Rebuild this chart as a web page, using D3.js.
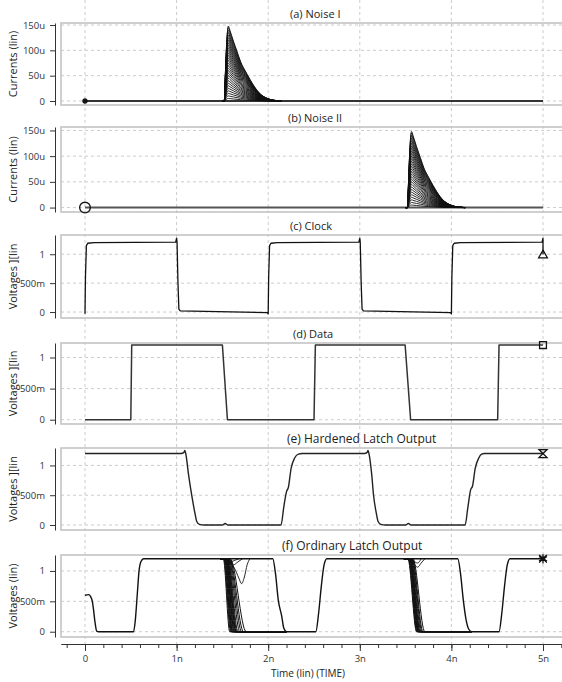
<!DOCTYPE html>
<html>
<head>
<meta charset="UTF-8">
<title>Latch output under noise</title>
<script src="https://d3js.org/d3.v7.min.js"></script>
<style>
  body { margin: 0; background: #fff; }
  svg { font-family: "Open Sans", sans-serif; }
  .grid { stroke: #cccccc; stroke-width: 1; stroke-dasharray: 3,3; }
  .box { fill: none; stroke: #c4c4c4; stroke-width: 1.6; }
  .axis path, .axis line { stroke: #333; }
  .axis text { fill: #333; font-size: 9.5px; font-family: "Open Sans", sans-serif; }
</style>
</head>
<body>
<svg></svg>
<script>
// ticks
const timeTicks = [0, 1, 2, 3, 4, 5];
const timeTickLabels = ["0", "1n", "2n", "3n", "4n", "5n"];
const currentTicks = [0, 50, 100, 150];
const currentTickLabels = ["0", "50u", "100u", "150u"];
const voltageTicks = [0, 0.5, 1];
const voltageTickLabels = ["0", "500m", "1"];

// noise current pulses (uA): one pulse shape, scaled to each peak value
const noiseShape = [0, 0, 0.45, 0.85, 1, 0.95, 0.8, 0.66, 0.52, 0.4, 0.29, 0.19, 0.11, 0.06, 0.03, 0.012, 0];
const noiseIT  = [1.50, 1.52, 1.535, 1.55, 1.565, 1.58, 1.62, 1.66, 1.70, 1.75, 1.80, 1.85, 1.90, 1.95, 2.00, 2.05, 2.15];
const noiseIIT = [3.50, 3.52, 3.535, 3.55, 3.565, 3.58, 3.62, 3.66, 3.70, 3.75, 3.80, 3.85, 3.90, 3.95, 4.00, 4.05, 4.15];
const noisePeaks = [5, 10, 15, 20, 25, 30, 35, 40, 45, 50, 55, 60, 65, 70, 75, 80, 85, 90, 95, 100,
                    105, 110, 115, 120, 125, 130, 135, 140, 145, 148];

// clock (V)
const clockT = [0, 0.005, 0.015, 0.03, 0.1, 0.99, 1.0, 1.005, 1.015, 1.025, 1.04, 1.99, 2.0, 2.005, 2.015, 2.03, 2.1,
                2.99, 3.0, 3.005, 3.015, 3.025, 3.04, 3.99, 4.0, 4.005, 4.015, 4.03, 4.1, 4.99, 5.0, 5.0];
const clockV = [-0.03, 0.6, 1.15, 1.19, 1.2, 1.21, 1.28, 1.2, 0.5, 0.05, 0.02, -0.01, -0.03, 0.6, 1.15, 1.19, 1.2,
                1.21, 1.28, 1.2, 0.5, 0.05, 0.02, -0.01, -0.03, 0.6, 1.15, 1.19, 1.2, 1.21, 1.28, 1.0];

// data (V)
const dataT = [0, 0.5, 0.51, 1.5, 1.555, 2.5, 2.515, 3.495, 3.555, 4.505, 4.52, 5.0];
const dataV = [0, 0, 1.2, 1.2, 0, 0, 1.2, 1.2, 0, 0, 1.2, 1.2];

// hardened latch output (V)
const hardT = [0, 1.05, 1.08, 1.09, 1.1, 1.13, 1.165, 1.2, 1.22, 1.25, 1.3, 1.5, 1.53, 1.56,
               2.14, 2.17, 2.2, 2.22, 2.25, 2.29, 2.33, 2.37,
               3.05, 3.08, 3.09, 3.1, 3.13, 3.15, 3.18, 3.2, 3.23, 3.28, 3.5, 3.53, 3.56,
               4.15, 4.18, 4.21, 4.23, 4.26, 4.3, 4.33, 4.36, 5.0];
const hardV = [1.2, 1.2, 1.22, 1.25, 1.2, 0.85, 0.5, 0.2, 0.06, 0.01, 0, 0, 0.025, 0,
               0, 0.3, 0.56, 0.63, 0.95, 1.13, 1.19, 1.2,
               1.2, 1.22, 1.25, 1.2, 0.85, 0.5, 0.2, 0.06, 0.01, 0, 0, 0.025, 0,
               0, 0.3, 0.59, 0.65, 0.95, 1.13, 1.19, 1.2, 1.2];

// ordinary latch output (V), nominal run
const ordT = [0, 0.04, 0.06, 0.08, 0.09, 0.11, 0.128, 0.15, 0.53, 0.55, 0.57, 0.59, 0.61, 0.64,
              2.05, 2.08, 2.11, 2.147, 2.17, 2.2, 2.52, 2.55, 2.58, 2.61, 2.64,
              4.07, 4.1, 4.13, 4.16, 4.19, 4.22, 4.52, 4.55, 4.58, 4.61, 4.64, 5.0];
const ordV = [0.6, 0.61, 0.58, 0.5, 0.4, 0.15, 0.01, 0, 0, 0.2, 0.6, 1.0, 1.15, 1.2,
              1.2, 0.95, 0.52, 0.26, 0.06, 0, 0, 0.3, 0.75, 1.1, 1.2,
              1.2, 0.95, 0.52, 0.2, 0.04, 0, 0, 0.3, 0.75, 1.1, 1.2, 1.2];

// runs flipped by noise I / noise II: start and end of the fall (ns)
const flipIStart  = [1.51, 1.515, 1.52, 1.525, 1.53, 1.535, 1.54, 1.54, 1.545, 1.55, 1.55, 1.555, 1.56, 1.565, 1.57, 1.575, 1.58, 1.585];
const flipIEnd    = [1.58, 1.59, 1.60, 1.60, 1.61, 1.61, 1.62, 1.63, 1.63, 1.64, 1.65, 1.65, 1.66, 1.67, 1.69, 1.71, 1.73, 1.76];
const flipIIStart = [3.525, 3.53, 3.535, 3.54, 3.545, 3.55, 3.55, 3.555, 3.56, 3.565, 3.57, 3.575, 3.58];
const flipIIEnd   = [3.62, 3.625, 3.63, 3.635, 3.64, 3.645, 3.65, 3.655, 3.66, 3.67, 3.68, 3.69, 3.71];

// runs that dip and recover
const dipsT = [
  [1.52, 1.58, 1.63, 1.68, 1.71, 1.74, 1.77, 1.80],
  [1.52, 1.57, 1.62, 1.67, 1.72],
  [1.53, 1.58, 1.63, 1.68],
  [3.52, 3.58, 3.63, 3.67, 3.71],
  [3.53, 3.59, 3.63, 3.67]
];
const dipsV = [
  [1.2, 1.15, 1.05, 0.88, 0.79, 0.9, 1.1, 1.2],
  [1.2, 1.17, 1.1, 1.15, 1.2],
  [1.2, 1.15, 1.17, 1.2],
  [1.2, 1.14, 1.06, 1.13, 1.2],
  [1.2, 1.16, 1.13, 1.2]
];

const width = 562, height = 682;
const svg = d3.select('svg').attr('width', width).attr('height', height);

const x = d3.scaleLinear().domain([0, 5]).range([85, 543]);
const plotLeft = 61, plotRight = 580;
const xFull = x.copy().domain([x.invert(plotLeft), x.invert(plotRight)]).range([plotLeft, plotRight]);

const panels = [
  { title: '(a) Noise I', tx: 290, fs: 11, ylabel: 'Currents (lin)', top: 23, bottom: 105, dom: [-7.9, 154], ticks: currentTicks, labels: currentTickLabels },
  { title: '(b) Noise II', tx: 288, fs: 11, ylabel: 'Currents (lin)', top: 127, bottom: 212, dom: [-8.6, 156.7], ticks: currentTicks, labels: currentTickLabels },
  { title: '(c) Clock', tx: 290, fs: 11, ylabel: 'Voltages ][lin', top: 235, bottom: 318, dom: [-0.103, 1.333], ticks: voltageTicks, labels: voltageTickLabels },
  { title: '(d) Data', tx: 293, fs: 11, ylabel: 'Voltages ][lin', top: 343, bottom: 424, dom: [-0.069, 1.233], ticks: voltageTicks, labels: voltageTickLabels },
  { title: '(e) Hardened Latch Output', tx: 287, fs: 12, ylabel: 'Voltages ][lin', top: 448, bottom: 530, dom: [-0.084, 1.293], ticks: voltageTicks, labels: voltageTickLabels },
  { title: '(f) Ordinary Latch Output', tx: 282, fs: 12, ylabel: 'Voltages (lin)', top: 555, bottom: 637, dom: [-0.087, 1.262], ticks: voltageTicks, labels: voltageTickLabels }
];
panels.forEach(p => { p.y = d3.scaleLinear().domain(p.dom).range([p.bottom, p.top]); });

// vertical grid through the whole figure
svg.append('g').selectAll('line').data(timeTicks).enter().append('line')
  .attr('class', 'grid')
  .attr('x1', d => x(d)).attr('x2', d => x(d))
  .attr('y1', 0).attr('y2', 644);

panels.forEach(p => {
  const g = svg.append('g');
  g.selectAll('.hgrid').data(p.ticks).enter().append('line')
    .attr('class', 'grid')
    .attr('x1', plotLeft).attr('x2', width)
    .attr('y1', d => p.y(d)).attr('y2', d => p.y(d));
  g.append('rect').attr('class', 'box')
    .attr('x', plotLeft).attr('y', p.top)
    .attr('width', plotRight - plotLeft).attr('height', p.bottom - p.top);
  g.append('g').attr('class', 'axis')
    .attr('transform', 'translate(55,0)')
    .call(d3.axisLeft(p.y).tickValues(p.ticks).tickFormat((d, i) => p.labels[i])
      .tickSize(5).tickSizeOuter(0).tickPadding(5));
  g.append('text')
    .attr('x', p.tx).attr('y', p.top - 5)
    .attr('font-size', p.fs + 'px').attr('fill', '#222')
    .text(p.title);
  g.append('text')
    .attr('transform', `translate(17,${(p.top + p.bottom) / 2}) rotate(-90)`)
    .attr('text-anchor', 'middle')
    .attr('font-size', '11px').attr('fill', '#222')
    .text(p.ylabel);
});

function draw(panel, ts, vs, opts) {
  const pts = ts.map((t, i) => [t, vs[i]]);
  const line = d3.line()
    .x(d => x(d[0])).y(d => panel.y(d[1]))
    .curve(opts.curve || d3.curveLinear);
  svg.append('path')
    .attr('d', line(pts))
    .attr('fill', 'none')
    .attr('stroke', opts.color || '#111')
    .attr('stroke-width', opts.w || 1.3)
    .attr('stroke-linejoin', 'round');
}

const [pa, pb, pc, pd, pe, pf] = panels;

// (a), (b) noise currents
draw(pa, [0, 5], [0, 0], { w: 1.8, color: '#333' });
draw(pb, [0, 5], [0, 0], { w: 2, color: '#555' });
noisePeaks.forEach(pk => {
  draw(pa, noiseIT, noiseShape.map(s => s * pk), { curve: d3.curveMonotoneX, w: 0.9 });
  draw(pb, noiseIIT, noiseShape.map(s => s * pk), { curve: d3.curveMonotoneX, w: 0.9 });
});

// (c) clock, (d) data
draw(pc, clockT, clockV, { w: 1.3 });
draw(pd, dataT, dataV, { w: 1.5, color: '#333' });

// (e) hardened latch
draw(pe, hardT, hardV, { curve: d3.curveMonotoneX, w: 1.4, color: '#222' });

// (f) ordinary latch: flipped runs, dips, nominal
flipIStart.forEach((s, i) => {
  draw(pf, [1.48, s, flipIEnd[i], 2.2], [1.2, 1.2, 0, 0], { curve: d3.curveMonotoneX, w: 1 });
});
flipIIStart.forEach((s, i) => {
  draw(pf, [3.48, s, flipIIEnd[i], 4.22], [1.2, 1.2, 0, 0], { curve: d3.curveMonotoneX, w: 1 });
});
dipsT.forEach((ts, i) => draw(pf, ts, dipsV[i], { curve: d3.curveMonotoneX, w: 0.9 }));
draw(pf, ordT, ordV, { curve: d3.curveMonotoneX, w: 1.4 });

// end markers
function marker(px, py, type, size, filled) {
  svg.append('path')
    .attr('transform', `translate(${px},${py})`)
    .attr('d', d3.symbol().type(type).size(size)())
    .attr('fill', filled ? '#111' : 'none')
    .attr('stroke', '#111').attr('stroke-width', 1.3);
}
const hourglass = {
  draw(ctx, size) {
    const r = Math.sqrt(size) / 2;
    ctx.moveTo(-r, -r); ctx.lineTo(r, -r); ctx.lineTo(-r, r); ctx.lineTo(r, r); ctx.closePath();
  }
};
marker(x(0), pa.y(0), d3.symbolCircle, 14, true);
marker(x(0), pb.y(0), d3.symbolCircle, 90, false);
marker(x(5), pc.y(1.0) + 1, d3.symbolTriangle2, 55, false);
marker(x(5), pd.y(1.2), d3.symbolSquare2, 60, false);
marker(x(5), pe.y(1.2), hourglass, 64, false);
marker(x(5), pf.y(1.2), d3.symbolAsterisk, 60, false);
marker(x(5), pf.y(1.2), d3.symbolTimes, 40, false);
marker(x(5), pf.y(1.2), d3.symbolSquare, 10, true);

// time axis
const minor = xFull.ticks(27);
svg.append('g').attr('class', 'axis')
  .attr('transform', 'translate(0,644)')
  .call(d3.axisBottom(xFull).tickValues(minor).tickFormat('').tickSize(4).tickSizeOuter(0));
svg.append('g').attr('class', 'axis')
  .attr('transform', 'translate(0,644)')
  .call(d3.axisBottom(xFull).tickValues(timeTicks).tickFormat((d, i) => timeTickLabels[i])
    .tickSize(7).tickSizeOuter(0).tickPadding(4));
svg.append('text')
  .attr('x', 308).attr('y', 677)
  .attr('text-anchor', 'middle')
  .attr('font-size', '10px').attr('fill', '#222')
  .text('Time (lin) (TIME)');
</script>
</body>
</html>
